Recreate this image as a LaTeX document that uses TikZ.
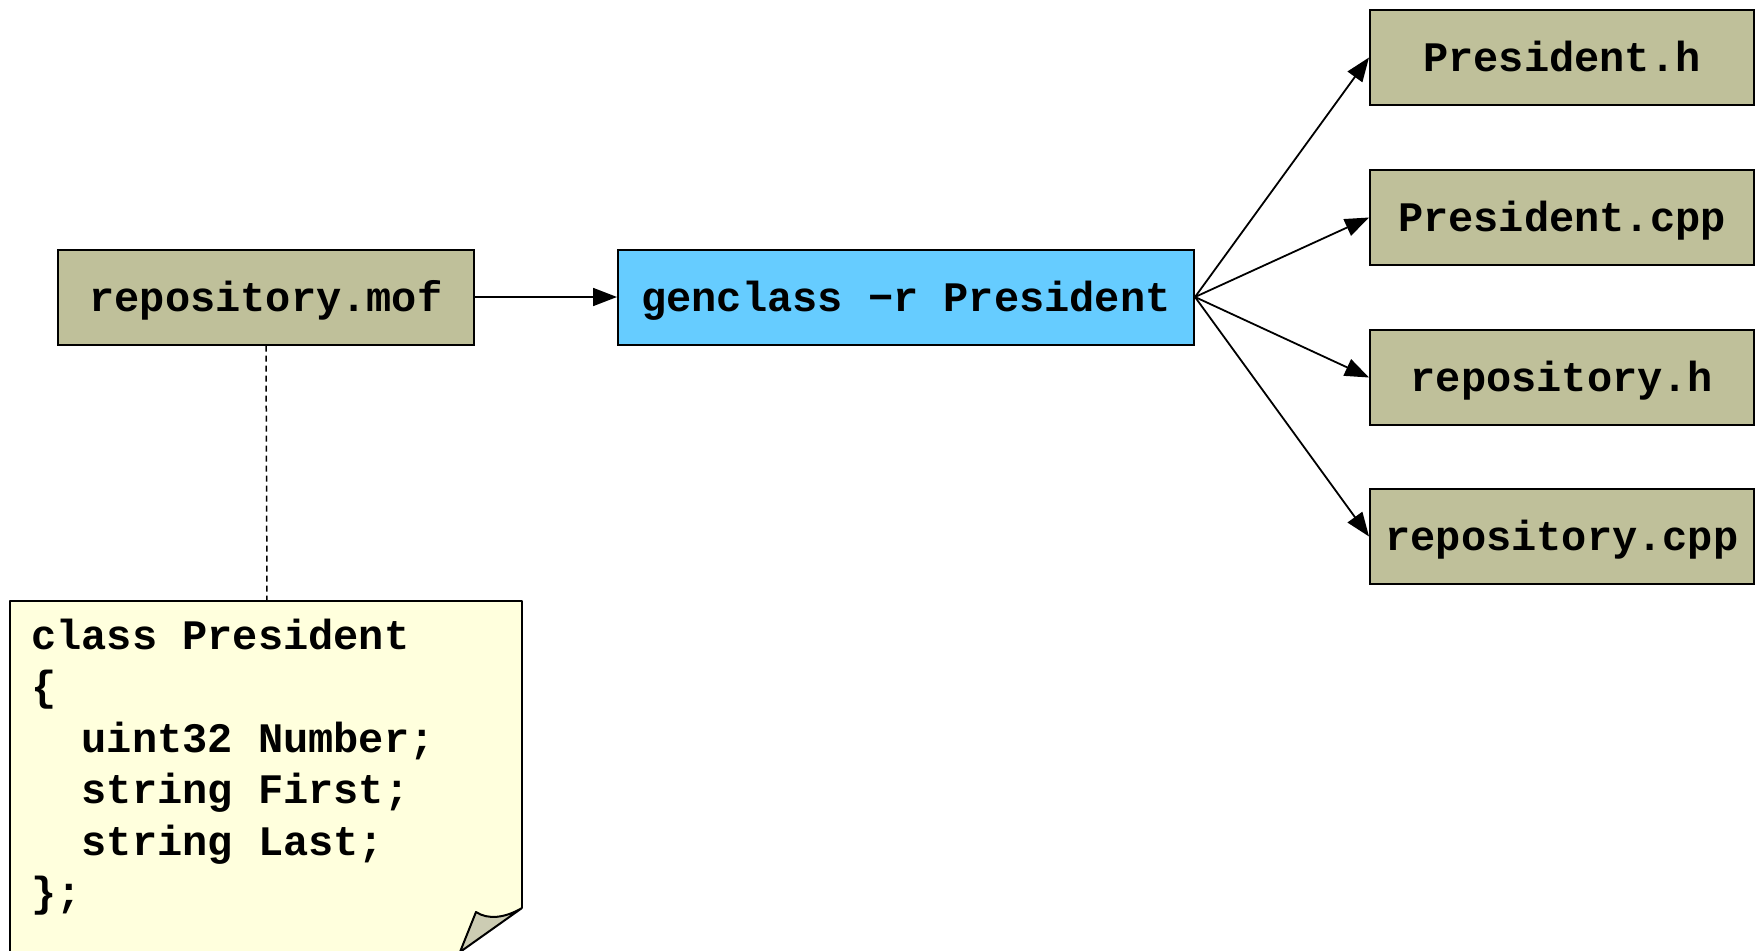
\documentclass[tikz,border=0pt]{standalone}
\usepackage{fontspec}
\setmonofont{Liberation Mono}
\usetikzlibrary{arrows.meta}
\definecolor{filebox}{RGB}{191,192,154}
\definecolor{toolbox}{RGB}{102,204,255}
\definecolor{notefill}{RGB}{255,255,221}
\definecolor{foldfill}{RGB}{204,204,179}
\newcommand\codetext{\fontsize{42}{52}\selectfont\ttfamily\bfseries}
\tikzset{
  filenode/.style={draw=black, line width=2pt, fill=filebox, inner sep=0pt,
    minimum height=95pt, text height=30pt, text depth=2pt, font=\codetext},
  toolnode/.style={filenode, fill=toolbox},
  flow/.style={line width=1.8pt, -{Triangle[length=24pt,width=18pt]}},
  codeline/.style={anchor=base west, inner sep=0pt, font=\codetext},
  link/.style={line width=1.5pt, dash pattern=on 6pt off 4pt}
}
\begin{document}
\begin{tikzpicture}[x=1pt,y=-1pt]
\useasboundingbox (0,0) rectangle (1758,950);

% source and tool
\node[filenode, minimum width=416pt] (mof) at (266,297) {repository.mof};
\node[toolnode, minimum width=576pt] (gen) at (906,297) {genclass −r President};

% generated files
\node[filenode, minimum width=384pt] (ph)   at (1562,57.5)  {President.h};
\node[filenode, minimum width=384pt] (pcpp) at (1562,217.5) {President.cpp};
\node[filenode, minimum width=384pt] (rh)   at (1562,377.5) {repository.h};
\node[filenode, minimum width=384pt] (rcpp) at (1562,536.5) {repository.cpp};

\draw[flow] (mof.east) -- (gen.west);
\draw[flow] (gen.east) -- (ph.west);
\draw[flow] (gen.east) -- (pcpp.west);
\draw[flow] (gen.east) -- (rh.west);
\draw[flow] (gen.east) -- (rcpp.west);

% note with folded corner
\coordinate (ntl) at (10,601);
\coordinate (ntr) at (522,601);
\coordinate (ncorner) at (522,908);
\coordinate (nbot) at (460,952);
\coordinate (nbl) at (10,952);
\coordinate (ntip) at (476,912);
\fill[notefill] (ntl) -- (ntr) -- (ncorner) -- (nbot) -- (nbl) -- cycle;
\draw[line width=2pt, line join=round] (nbl) -- (ntl) -- (ntr) -- (ncorner);
\filldraw[fill=foldfill, draw=black, line width=2pt, line join=round]
  (ncorner) .. controls (505,918) and (488,920) .. (ntip) -- (nbot) -- cycle;

\node[codeline] (c1) at (31,649) {class President};
\node[codeline] (c2) at (31,700.5) {\{};
\node[codeline] (c3) at (31,752) {\phantom{xx}uint32 Number;};
\node[codeline] (c4) at (31,803.5) {\phantom{xx}string First;};
\node[codeline] (c5) at (31,855) {\phantom{xx}string Last;};
\node[codeline] (c6) at (31,906.5) {\};};

\coordinate (ntop) at (267,601);
\draw[link] (mof.south) -- (ntop);
\end{tikzpicture}
\end{document}
